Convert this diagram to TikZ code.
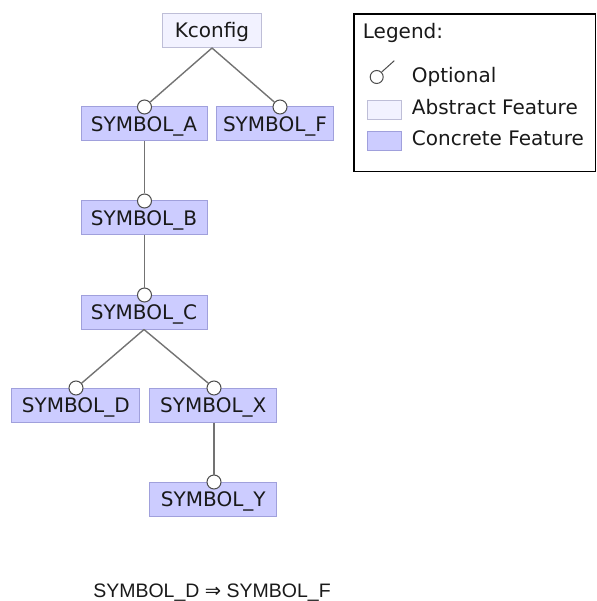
\documentclass[tikz,border=0pt]{standalone}
\usepackage{fontspec}
\setmainfont{DejaVu Sans}
\newfontfamily\constrfont{Liberation Sans}
\newfontfamily\symfont{DejaVu Sans}
\begin{document}
\begin{tikzpicture}[x=1pt,y=-1pt,
  font=\fontsize{20pt}{24pt}\selectfont,
  featbox/.style={draw, line width=1pt, inner sep=0pt, minimum height=34pt,
    text height=14.6pt, text depth=0pt, text=black!90},
  abstractbox/.style={featbox, fill=abstractfill, draw=abstractline},
  concretebox/.style={featbox, fill=concretefill, draw=concreteline},
  optmark/.style={circle, draw=black!70, fill=white, line width=1pt,
    inner sep=0pt, minimum size=14pt},
  link/.style={draw=black!55, line width=1.4pt},
  legtext/.style={anchor=base west, inner sep=0pt, text=black!90}]
\definecolor{abstractfill}{RGB}{242,242,255}
\definecolor{abstractline}{RGB}{190,190,215}
\definecolor{concretefill}{RGB}{204,204,255}
\definecolor{concreteline}{RGB}{160,160,220}

\useasboundingbox (0,0) rectangle (596,601);

% feature boxes
\node[abstractbox, minimum width=99pt] (kconfig) at (212,30.5) {Kconfig};
\node[concretebox, minimum width=126pt] (symA) at (144,124) {SYMBOL\_A};
\node[concretebox, minimum width=116.6pt] (symF) at (275,124) {SYMBOL\_F};
\node[concretebox, minimum width=126pt] (symB) at (144,218) {SYMBOL\_B};
\node[concretebox, minimum width=126pt] (symC) at (144,312) {SYMBOL\_C};
\node[concretebox, minimum width=128.3pt] (symD) at (75.8,405) {SYMBOL\_D};
\node[concretebox, minimum width=126.7pt] (symX) at (213.3,405) {SYMBOL\_X};
\node[concretebox, minimum width=126.7pt] (symY) at (213.3,499) {SYMBOL\_Y};

% optional markers on top edges
\node[optmark] (oA) at (144.5,107) {};
\node[optmark] (oF) at (280,107) {};
\node[optmark] (oB) at (144.5,201) {};
\node[optmark] (oC) at (144.5,295) {};
\node[optmark] (oD) at (76,388) {};
\node[optmark] (oX) at (214,388) {};
\node[optmark] (oY) at (214,482) {};

% parent-child links
\path[link] (kconfig.south) -- (oA);
\path[link] (kconfig.south) -- (oF);
\path[link] (oB |- symA.south) -- (oB);
\path[link] (oC |- symB.south) -- (oC);
\path[link] (symC.south) -- (oD);
\path[link] (symC.south) -- (oX);
\path[link] (oY |- symX.south) -- (oY);

% legend
\node[draw=black, line width=1.3pt, inner sep=0pt, minimum width=241.5pt,
  minimum height=157.7pt] (legend) at (474.75,92.85) {};
\node[legtext] (legtitle) at (362.7,38.4) {Legend:};
\node[circle, draw=black!70, line width=1pt, inner sep=0pt,
  minimum size=13pt] (legopt) at (376.7,77) {};
\coordinate (legtick) at (394.3,60.7);
\draw[black!70, line width=1pt] (legopt.north east) -- (legtick);
\node[legtext] (legoptt) at (411.7,82.7) {Optional};
\node[draw=abstractline, fill=abstractfill, line width=1pt, inner sep=0pt,
  minimum width=34.4pt, minimum height=19.5pt] (legabs) at (384.5,109.8) {};
\node[legtext] (legabst) at (411.7,114.3) {Abstract Feature};
\node[draw=concreteline, fill=concretefill, line width=1pt, inner sep=0pt,
  minimum width=34.4pt, minimum height=19.5pt] (legcon) at (384.5,141.2) {};
\node[legtext] (legcont) at (411.7,146) {Concrete Feature};

% cross-tree constraint
\node[anchor=base, inner sep=0pt, text=black!90,
  font=\constrfont\fontsize{19.5pt}{23pt}\selectfont] (constraint) at (212,597.5)
  {SYMBOL\_D {\symfont ⇒} SYMBOL\_F};
\end{tikzpicture}
\end{document}
